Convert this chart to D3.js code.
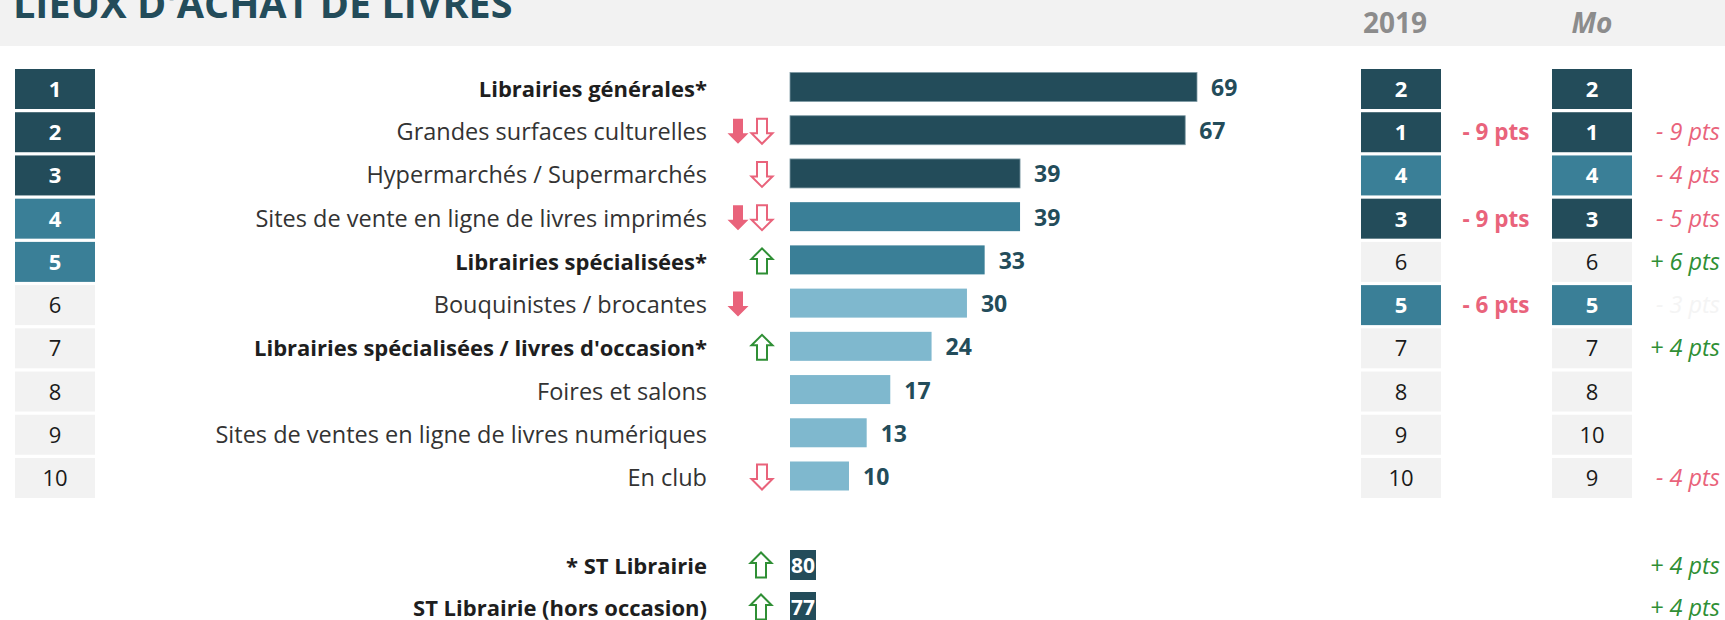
<!DOCTYPE html>
<html>
<head>
<meta charset="utf-8">
<script src="https://cdn.jsdelivr.net/npm/d3@7"></script>
<style>
  body { margin: 0; background: #fff; }
  svg { display: block; font-family: "Open Sans", sans-serif; }
</style>
</head>
<body>
<svg id="chart"></svg>
<script>
// data
const places = [
  "Librairies générales*",
  "Grandes surfaces culturelles",
  "Hypermarchés / Supermarchés",
  "Sites de vente en ligne de livres imprimés",
  "Librairies spécialisées*",
  "Bouquinistes / brocantes",
  "Librairies spécialisées / livres d'occasion*",
  "Foires et salons",
  "Sites de ventes en ligne de livres numériques",
  "En club"
];
const boldPlaces = [0, 4, 6];
const shares = [69, 67, 39, 39, 33, 30, 24, 17, 13, 10];
const ranks = [1, 2, 3, 4, 5, 6, 7, 8, 9, 10];
const ranks2019 = [2, 1, 4, 3, 6, 5, 7, 8, 9, 10];
const ranksMo = [2, 1, 4, 3, 6, 5, 7, 8, 10, 9];
const solidArrows = ["", "down", "", "down", "", "down", "", "", "", ""];
const outlineArrows = ["", "down", "down", "down", "up", "", "up", "", "", "down"];
const diff2019 = ["", "- 9 pts", "", "- 9 pts", "", "- 6 pts", "", "", "", ""];
const diffMo = ["", "- 9 pts", "- 4 pts", "- 5 pts", "+ 6 pts", "- 3 pts", "+ 4 pts", "", "", "- 4 pts"];
const mutedMo = [5];

const stLabels = ["* ST Librairie", "ST Librairie (hors occasion)"];
const stValues = [80, 77];
const stArrows = ["up", "up"];
const stDiffMo = ["+ 4 pts", "+ 4 pts"];

const title = "LIEUX D'ACHAT DE LIVRES";
const colHeaders = ["2019", "Mo"];

const width = 1725, height = 620;
const dark = "#234c5a", mid = "#3a7f97", light = "#7fb8ce", grey = "#f2f2f2";
const pink = "#e9637b", green = "#2f8f35";

const svg = d3.select("#chart")
    .attr("width", width)
    .attr("height", height);

// rows
const y = d3.scaleLinear().domain([0, 9]).range([89, 478]);
const yST = d3.scaleLinear().domain([0, 1]).range([566, 608]);
const x = d3.scaleLinear().domain([0, 69]).range([790, 1197]);

function rankFill(r) {
    if (r <= 3) return dark;
    if (r <= 5) return mid;
    return grey;
}
function barFill(i) {
    if (i < 3) return dark;
    if (i < 5) return mid;
    return light;
}

// header band
svg.append("rect")
    .attr("width", width).attr("height", 46)
    .attr("fill", "#f2f2f2");
svg.append("text")
    .attr("x", 13).attr("y", 18)
    .attr("font-size", 39.5).attr("font-weight", 700)
    .attr("fill", dark)
    .text(title);
svg.append("text")
    .attr("x", 1395).attr("y", 33)
    .attr("text-anchor", "middle")
    .attr("font-size", 28).attr("font-weight", 700)
    .attr("fill", "#8c8c8c")
    .text(colHeaders[0]);
svg.append("text")
    .attr("x", 1592).attr("y", 33)
    .attr("text-anchor", "middle")
    .attr("font-size", 28).attr("font-weight", 700).attr("font-style", "italic")
    .attr("fill", "#8c8c8c")
    .text(colHeaders[1]);

// rank boxes
function rankColumn(vals, cx) {
    const g = svg.append("g");
    g.selectAll("rect")
        .data(vals)
        .enter().append("rect")
        .attr("x", cx - 40).attr("width", 80)
        .attr("y", (d, i) => y(i) - 20).attr("height", 40)
        .attr("fill", d => rankFill(d));
    g.selectAll("text")
        .data(vals)
        .enter().append("text")
        .attr("x", cx).attr("y", (d, i) => y(i) + 8)
        .attr("text-anchor", "middle")
        .attr("font-size", 22)
        .attr("font-weight", d => d <= 5 ? 700 : 400)
        .attr("fill", d => d <= 5 ? "#fff" : "#1a1a1a")
        .text(d => d);
}
rankColumn(ranks, 55);
rankColumn(ranks2019, 1401);
rankColumn(ranksMo, 1592);

// labels
const labelX = 707;
svg.append("g").selectAll("text")
    .data(places)
    .enter().append("text")
    .attr("x", labelX).attr("y", (d, i) => y(i) + 8)
    .attr("text-anchor", "end")
    .attr("font-size", (d, i) => boldPlaces.includes(i) ? 22 : 23.5)
    .attr("font-weight", (d, i) => boldPlaces.includes(i) ? 700 : 400)
    .attr("fill", (d, i) => boldPlaces.includes(i) ? "#1e1e1e" : "#333")
    .text(d => d);

svg.append("g").selectAll("text")
    .data(stLabels)
    .enter().append("text")
    .attr("x", labelX).attr("y", (d, i) => yST(i) + 8)
    .attr("text-anchor", "end")
    .attr("font-size", 22).attr("font-weight", 700)
    .attr("fill", "#1e1e1e")
    .text(d => d);

// arrows
function arrowPath(dir) {
    // drawn around (0,0), 21 wide, 25 tall
    const p = [[-5, -12.5], [5, -12.5], [5, 2], [10.5, 2], [0, 12.5], [-10.5, 2], [-5, 2]];
    const pts = dir === "up" ? p.map(([a, b]) => [a, -b]) : p;
    return "M" + pts.map(q => q.join(",")).join("L") + "Z";
}
function arrows(list, cx, cy, solid) {
    svg.append("g").selectAll("path")
        .data(list.map((d, i) => ({ d, i })).filter(o => o.d))
        .enter().append("path")
        .attr("transform", o => `translate(${cx},${cy(o.i)})`)
        .attr("d", o => arrowPath(o.d))
        .attr("fill", o => solid ? pink : "#fff")
        .attr("stroke", o => o.d === "up" ? green : pink)
        .attr("stroke-width", solid ? 0 : 2)
        .attr("stroke-linejoin", "miter");
}
arrows(solidArrows, 738, i => y(i) - 1, true);
arrows(outlineArrows, 762, i => y(i) - 1, false);
arrows(stArrows, 761, i => yST(i) - 1, false);

// bars
const bars = svg.append("g");
bars.selectAll("rect")
    .data(shares)
    .enter().append("rect")
    .attr("x", x(0))
    .attr("y", (d, i) => y(i) - 16.5)
    .attr("height", 29)
    .attr("width", d => x(d) - x(0))
    .attr("fill", (d, i) => barFill(i))
    .attr("stroke", (d, i) => i < 3 ? "#7d99a3" : "none")
    .attr("stroke-width", 0.8);
bars.selectAll("text")
    .data(shares)
    .enter().append("text")
    .attr("x", d => x(d) + 14)
    .attr("y", (d, i) => y(i) + 7)
    .attr("font-size", 23).attr("font-weight", 700)
    .attr("fill", dark)
    .text(d => d);

// ST value cells
const st = svg.append("g");
st.selectAll("rect")
    .data(stValues)
    .enter().append("rect")
    .attr("x", x(0)).attr("width", 26)
    .attr("y", (d, i) => yST(i) - 16).attr("height", 30)
    .attr("fill", dark);
st.selectAll("text")
    .data(stValues)
    .enter().append("text")
    .attr("x", x(0) + 1).attr("y", (d, i) => yST(i) + 7)
    .attr("font-size", 22).attr("font-weight", 700)
    .attr("textLength", 24).attr("lengthAdjust", "spacingAndGlyphs")
    .attr("fill", "#fff")
    .text(d => d);

// 2019 differences
svg.append("g").selectAll("text")
    .data(diff2019)
    .enter().append("text")
    .attr("x", 1496).attr("y", (d, i) => y(i) + 8)
    .attr("text-anchor", "middle")
    .attr("font-size", 22.5).attr("font-weight", 700)
    .attr("fill", pink)
    .text(d => d);

// Mo differences
function moColor(d, i) {
    if (mutedMo.includes(i)) return "#f4f4f4";
    return d.startsWith("+") ? green : pink;
}
svg.append("g").selectAll("text")
    .data(diffMo)
    .enter().append("text")
    .attr("x", 1720).attr("y", (d, i) => y(i) + 8)
    .attr("text-anchor", "end")
    .attr("font-size", 23.5).attr("font-style", "italic")
    .attr("fill", (d, i) => moColor(d, i))
    .text(d => d);
svg.append("g").selectAll("text")
    .data(stDiffMo)
    .enter().append("text")
    .attr("x", 1720).attr("y", (d, i) => yST(i) + 8)
    .attr("text-anchor", "end")
    .attr("font-size", 23.5).attr("font-style", "italic")
    .attr("fill", green)
    .text(d => d);
</script>
</body>
</html>
